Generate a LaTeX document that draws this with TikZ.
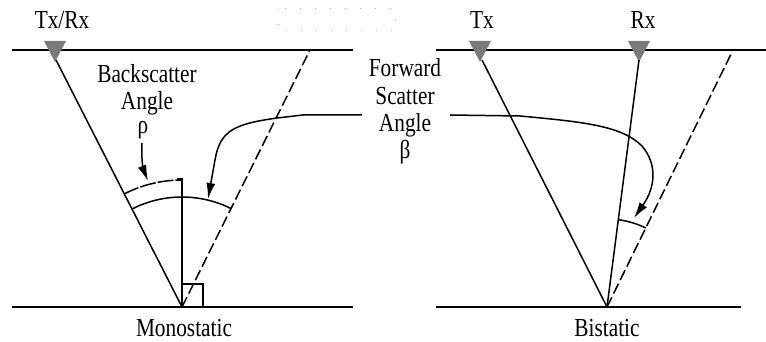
\documentclass[tikz,border=0pt]{standalone}
\usepackage{fontspec}
\setmainfont{Liberation Serif}[FakeStretch=0.82]
\usetikzlibrary{arrows.meta}
\definecolor{antgray}{RGB}{122,122,122}
\begin{document}
\begin{tikzpicture}[x=1pt,y=-1pt,
  surface/.style={line width=2.4pt},
  ray/.style={line width=1.5pt},
  dashray/.style={ray, dash pattern=on 11pt off 4pt},
  roughray/.style={ray, dash pattern=on 16pt off 2pt},
  lbl/.style={font=\fontsize{26}{28}\selectfont, anchor=base, inner sep=0pt},
  antenna/.style={fill=antgray, draw=none},
  pointer/.style={line width=1.5pt, -{Latex[length=16pt,width=9pt]}},
  faint/.style={draw=gray!55, line width=1pt, dash pattern=on 1pt off 14pt}]
\useasboundingbox (0,0) rectangle (766,342);

% faint dotted frame at top
\draw[faint] (278,9) rectangle (395,31);

% ---------- Monostatic ----------
\coordinate (G1) at (182,307);
\coordinate (A1) at (56,60);
\coordinate (D1) at (310,50);
\coordinate (V1) at (182,179);
\draw[surface] (12,50) -- (353,50);
\draw[surface] (12,307) -- (353,307);
\fill[antenna] (44,41) -- (66,41) -- (55,62) -- cycle;
\draw[ray] (A1) -- (G1);
\draw[dashray] (G1) -- (D1);
\draw[ray] (G1) -- (V1) -- ++(-5,0);
\draw[ray] (183,284) -- (203,284) -- (203,307);
\draw[roughray] (G1) ++(-117.3:127) arc[start angle=-117.3, end angle=-90, radius=127];
\draw[ray] (G1) ++(-117.3:110) arc[start angle=-117.3, end angle=-63.5, radius=110];

\node[lbl] (txrx) at (62,29) {Tx/Rx};
\node[lbl] (bs1) at (147,83) {Backscatter};
\node[lbl] (bs2) at (147,110) {Angle};
\node[lbl] (rho) at (143,134) {ρ};
\node[lbl] (mono) at (184,336) {Monostatic};

\draw[pointer] (142,143) .. controls (141,163) and (144,171) .. (148,181);

% ---------- Forward scatter label ----------
\node[lbl] (fs1) at (405,77) {Forward};
\node[lbl] (fs2) at (405,105) {Scatter};
\node[lbl] (fs3) at (405,132) {Angle};
\node[lbl] (beta) at (405,159) {β};

\draw[pointer] (362,115) -- (303,115) -- (277,118) .. controls (235,124) and (220,130) .. (215,160) -- (208,199);
\draw[pointer] (450,115) -- (520,116) .. controls (585,122) and (622,126) .. (642,146) .. controls (658,165) and (655,188) .. (634,218);

% ---------- Bistatic ----------
\coordinate (G2) at (607,307);
\coordinate (A2) at (482,60);
\coordinate (R2) at (639,60);
\coordinate (D2) at (733,50);
\draw[surface] (436,50) -- (766,50);
\draw[surface] (436,307) -- (741,307);
\fill[antenna] (469,41) -- (491,41) -- (480,62) -- cycle;
\fill[antenna] (628,41) -- (650,41) -- (639,62) -- cycle;
\draw[ray] (A2) -- (G2);
\draw[ray] (R2) -- (G2);
\draw[dashray] (G2) -- (D2);
\draw[ray] (G2) ++(-82.6:88) arc[start angle=-82.6, end angle=-63.9, radius=88];

\node[lbl] (tx) at (482,29) {Tx};
\node[lbl] (rx) at (643,29) {Rx};
\node[lbl] (bi) at (607,336) {Bistatic};
\end{tikzpicture}
\end{document}
